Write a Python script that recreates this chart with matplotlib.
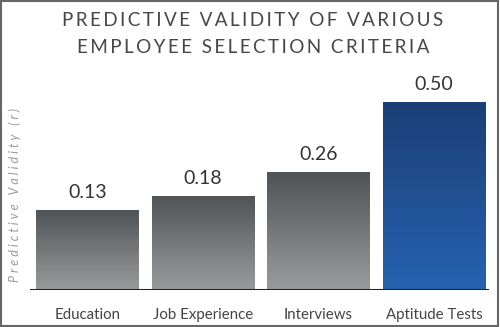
import matplotlib.pyplot as plt
import numpy as np
from matplotlib.colors import LinearSegmentedColormap
from matplotlib.patches import Rectangle

categories = ['Education', 'Job Experience', 'Interviews', 'Aptitude Tests']
validity = [0.13, 0.18, 0.26, 0.50]
value_labels = ['0.13', '0.18', '0.26', '0.50']
title_lines = ['PREDICTIVE VALIDITY OF VARIOUS', 'EMPLOYEE SELECTION CRITERIA']
y_label = 'Predictive Validity (r)'

base = -0.144
top = 0.60

gray_cmap = LinearSegmentedColormap.from_list('gray_grad', ['#9a9b9d', '#505456'])
blue_cmap = LinearSegmentedColormap.from_list('blue_grad', ['#2663b1', '#1b3e76'])

FONTS = ['Lato', 'DejaVu Sans']


def spaced(text, gap='\u2009'):
	"""Fake letter spacing with thin spaces"""
	return gap.join(text)


def gradient_bar(ax, bar, cmap):
	"""Fill a bar with a vertical gradient clipped to its shape"""
	x0, y0 = bar.get_x(), bar.get_y()
	w, h = bar.get_width(), bar.get_height()
	grad = np.linspace(0, 1, 256).reshape(-1, 1)
	img = ax.imshow(grad, cmap=cmap, aspect='auto', origin='lower',
					extent=(x0, x0 + w, y0, y0 + h), zorder=2)
	img.set_clip_path(bar)
	bar.set_facecolor('none')


fig = plt.figure(figsize=(5, 3.27), dpi=100)
ax = fig.add_axes([0.0595, 0.1131, 0.924, 0.6636])

x = np.arange(len(categories))
heights = [v - base for v in validity]
bars = ax.bar(x, heights, bottom=base, width=0.89, zorder=1,
			  edgecolor='none', linewidth=0)

for i, bar in enumerate(bars):
	cmap = blue_cmap if i == len(bars) - 1 else gray_cmap
	gradient_bar(ax, bar, cmap)
	ax.text(bar.get_x() + bar.get_width() / 2, validity[i] + 0.03, value_labels[i],
			ha='center', va='bottom', fontsize=14, color='#333333', family=FONTS)

ax.set_xlim(-0.5, len(categories) - 0.5)
ax.set_ylim(base, top)
ax.axhline(base, xmin=0.0, xmax=0.99, color='#222222', linewidth=2.2, zorder=3)

for s in ax.spines.values():
	s.set_visible(False)
ax.set_yticks([])
ax.set_xticks(x)
ax.set_xticklabels(categories, fontsize=10.8, color='#444444', family=FONTS)
ax.tick_params(axis='x', length=0, pad=13)
ax.patch.set_alpha(0)

fig.text(0.03, 0.405, spaced(y_label, '\u2009\u2009'), rotation=90,
		 ha='center', va='center', fontsize=9, style='italic', color='#9a9a9a',
		 family=FONTS)

fig.text(0.506, 0.938, spaced(title_lines[0]), ha='center', va='center',
		 fontsize=13.6, color='#474747', family=FONTS)
fig.text(0.506, 0.856, spaced(title_lines[1]), ha='center', va='center',
		 fontsize=13.6, color='#474747', family=FONTS)

fig.patches.append(Rectangle((0.002, 0.003), 0.994, 0.994, transform=fig.transFigure,
							 fill=False, edgecolor='#666666', linewidth=1.5))

fig.savefig('out.png', dpi=100)
